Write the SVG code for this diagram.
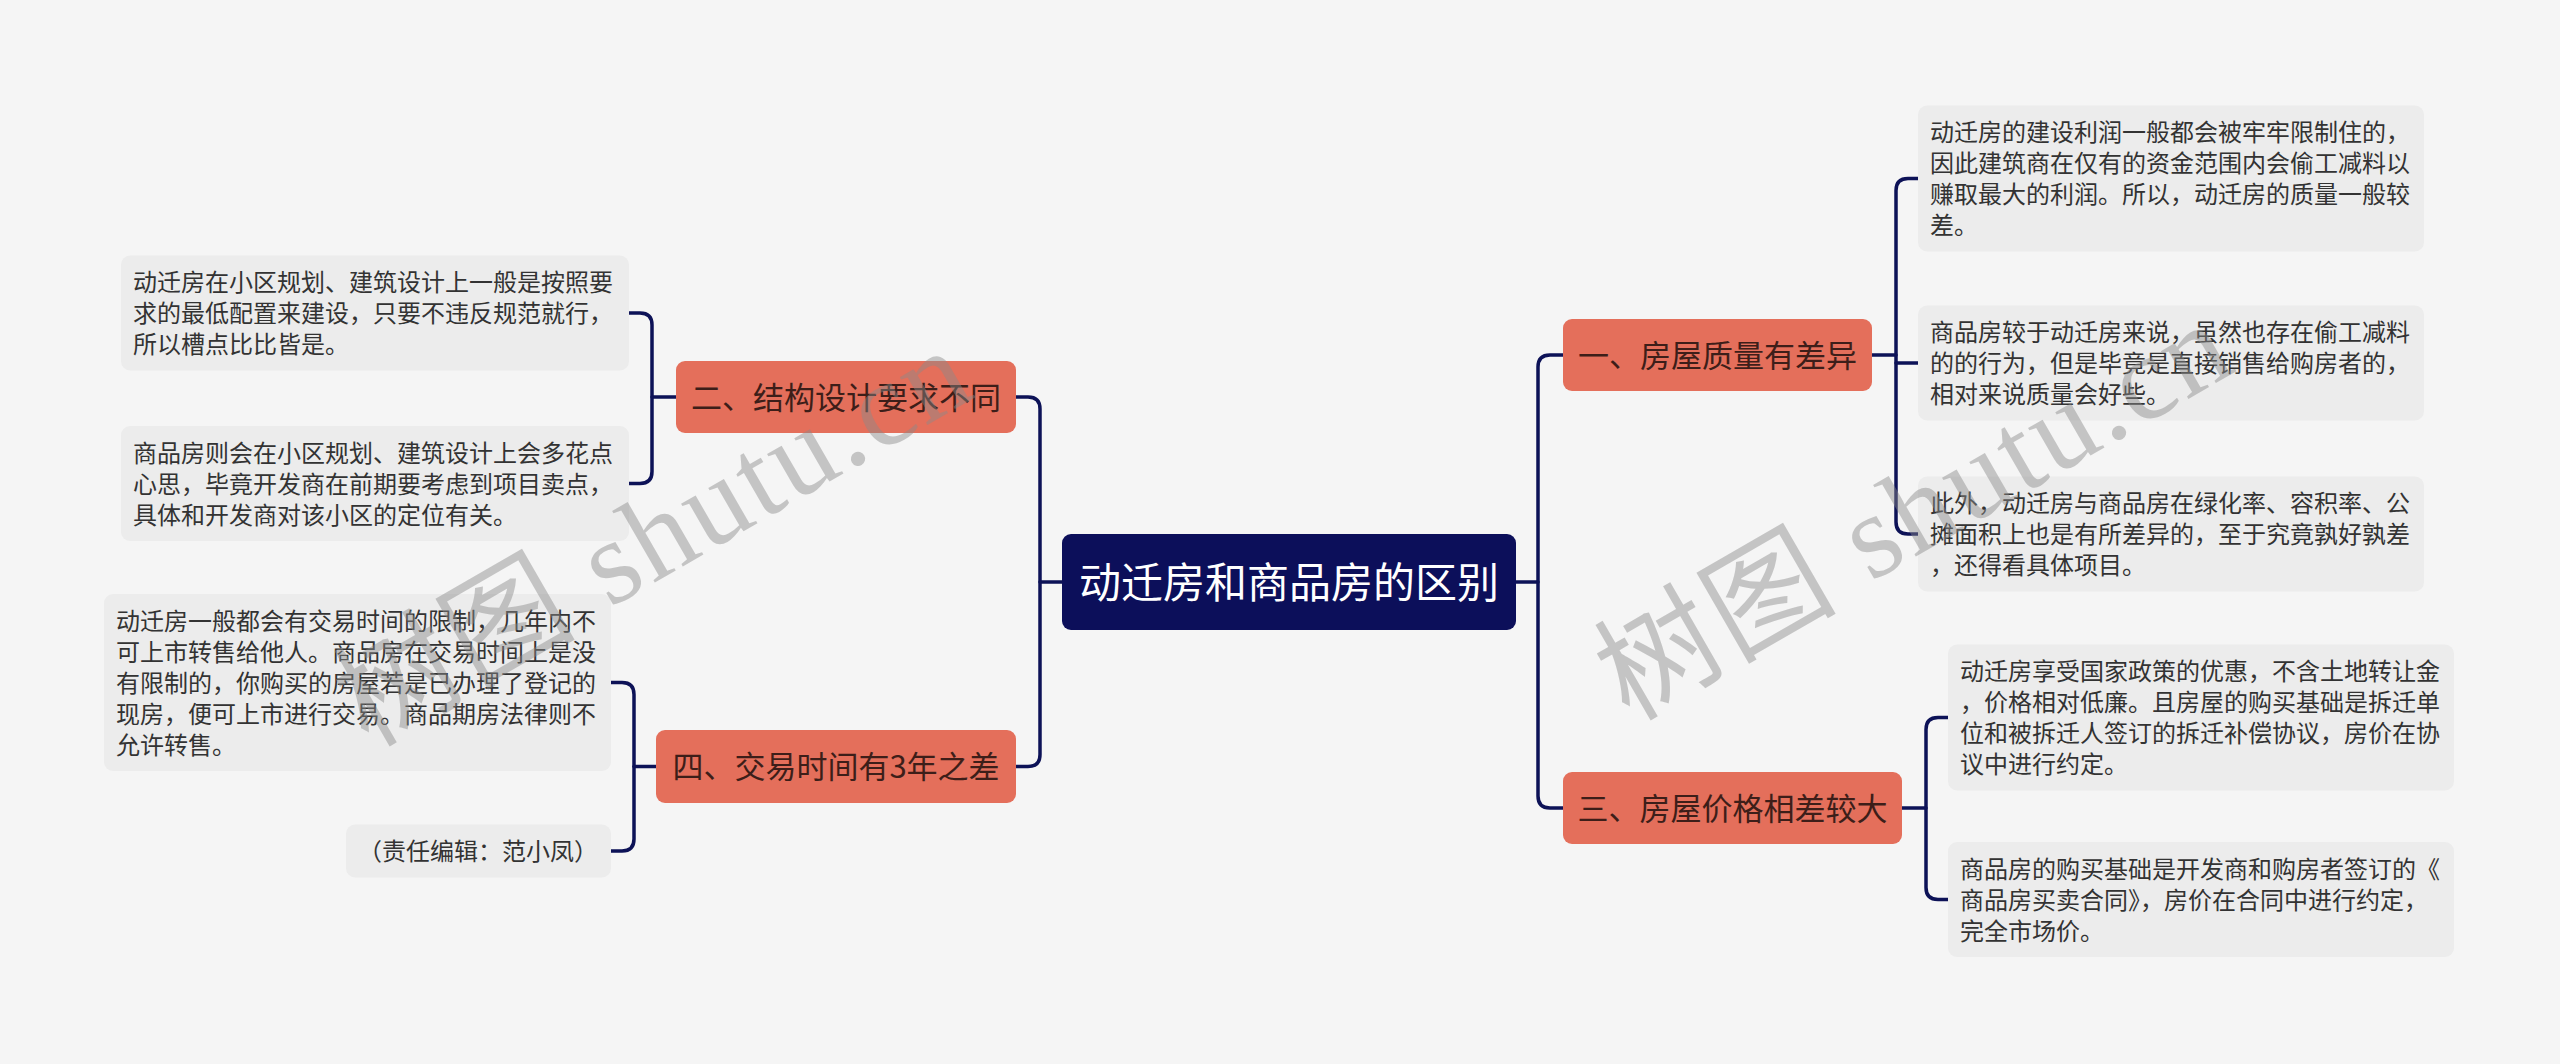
<svg xmlns="http://www.w3.org/2000/svg" width="2560" height="1064" viewBox="0 0 2560 1064">
<style>
.bg{fill:#f5f5f5}
.conn{fill:none;stroke:#0d1257;stroke-width:3.5;stroke-linecap:round}
.root{fill:#0c0f5a}
.rootText{font-family:"Noto Sans CJK SC","Noto Sans",sans-serif;font-size:42px;fill:#ffffff;text-anchor:middle}
.topic{fill:#e46f5b}
.topicText{font-family:"Noto Sans CJK SC","Noto Sans",sans-serif;font-size:31px;fill:#3d1e19;text-anchor:middle}
.leaf{fill:#ececec}
.leafText{font-family:"Noto Sans CJK SC","Noto Sans",sans-serif;font-size:24px;fill:#333333}
.wm{font-family:"Liberation Serif","Noto Sans CJK SC",serif;font-size:120px;letter-spacing:3px;fill:#8a8a8a;fill-opacity:0.45}
</style>
<rect class="bg" x="0" y="0" width="2560" height="1064"/>

<g id="connectors">
  <path class="conn" d="M1040 582 H1062"/>
  <path class="conn" d="M1016 397 H1028 Q1040 397 1040 409 V754.5 Q1040 766.5 1028 766.5 H1016"/>
  <path class="conn" d="M1516 582 H1538"/>
  <path class="conn" d="M1563 355 H1550 Q1538 355 1538 367 V796 Q1538 808 1550 808 H1563"/>
  <path class="conn" d="M1872 355 H1896"/>
  <path class="conn" d="M1918 178.5 H1908 Q1896 178.5 1896 190.5 V522 Q1896 534 1908 534 H1918"/>
  <path class="conn" d="M1896 363 H1918"/>
  <path class="conn" d="M1902 808 H1926"/>
  <path class="conn" d="M1948 717.5 H1938 Q1926 717.5 1926 729.5 V887.5 Q1926 899.5 1938 899.5 H1948"/>
  <path class="conn" d="M652 397 H676"/>
  <path class="conn" d="M629 313 H640 Q652 313 652 325 V471.5 Q652 483.5 640 483.5 H629"/>
  <path class="conn" d="M634 766.5 H656"/>
  <path class="conn" d="M611 682.5 H622 Q634 682.5 634 694.5 V839 Q634 851 622 851 H611"/>
</g>

<g id="root">
  <rect class="root" x="1062" y="534" width="454" height="96" rx="9"/>
  <text class="rootText" x="1289" y="598">动迁房和商品房的区别</text>
</g>

<g id="topic1">
  <rect class="topic" x="1563" y="319" width="309" height="72" rx="9"/>
  <text class="topicText" x="1717.5" y="367">一、房屋质量有差异</text>
</g>
<g id="topic3">
  <rect class="topic" x="1563" y="772" width="339" height="72" rx="9"/>
  <text class="topicText" x="1732.5" y="820">三、房屋价格相差较大</text>
</g>
<g id="topic2">
  <rect class="topic" x="676" y="361" width="340" height="72" rx="9"/>
  <text class="topicText" x="846" y="409">二、结构设计要求不同</text>
</g>
<g id="topic4">
  <rect class="topic" x="656" y="730" width="360" height="73" rx="9"/>
  <text class="topicText" x="836" y="778">四、交易时间有3年之差</text>
</g>

<g id="leafQ1">
  <rect class="leaf" x="1918" y="105.5" width="506" height="146" rx="9"/>
  <text class="leafText">
    <tspan x="1930" y="141">动迁房的建设利润一般都会被牢牢限制住的，</tspan>
    <tspan x="1930" y="172">因此建筑商在仅有的资金范围内会偷工减料以</tspan>
    <tspan x="1930" y="203">赚取最大的利润。所以，动迁房的质量一般较</tspan>
    <tspan x="1930" y="234">差。</tspan>
  </text>
</g>
<g id="leafQ2">
  <rect class="leaf" x="1918" y="305.5" width="506" height="115" rx="9"/>
  <text class="leafText">
    <tspan x="1930" y="341">商品房较于动迁房来说，虽然也存在偷工减料</tspan>
    <tspan x="1930" y="372">的的行为，但是毕竟是直接销售给购房者的，</tspan>
    <tspan x="1930" y="403">相对来说质量会好些。</tspan>
  </text>
</g>
<g id="leafQ3">
  <rect class="leaf" x="1918" y="476.5" width="506" height="115" rx="9"/>
  <text class="leafText">
    <tspan x="1930" y="512">此外，动迁房与商品房在绿化率、容积率、公</tspan>
    <tspan x="1930" y="543">摊面积上也是有所差异的，至于究竟孰好孰差</tspan>
    <tspan x="1930" y="574">，还得看具体项目。</tspan>
  </text>
</g>
<g id="leafP1">
  <rect class="leaf" x="1948" y="644.5" width="506" height="146" rx="9"/>
  <text class="leafText">
    <tspan x="1960" y="680">动迁房享受国家政策的优惠，不含土地转让金</tspan>
    <tspan x="1960" y="711">，价格相对低廉。且房屋的购买基础是拆迁单</tspan>
    <tspan x="1960" y="742">位和被拆迁人签订的拆迁补偿协议，房价在协</tspan>
    <tspan x="1960" y="773">议中进行约定。</tspan>
  </text>
</g>
<g id="leafP2">
  <rect class="leaf" x="1948" y="842" width="506" height="115" rx="9"/>
  <text class="leafText">
    <tspan x="1960" y="877.5">商品房的购买基础是开发商和购房者签订的《</tspan>
    <tspan x="1960" y="908.5">商品房买卖合同》，房价在合同中进行约定，</tspan>
    <tspan x="1960" y="939.5">完全市场价。</tspan>
  </text>
</g>
<g id="leafS1">
  <rect class="leaf" x="121" y="255.5" width="508" height="115" rx="9"/>
  <text class="leafText">
    <tspan x="133" y="291">动迁房在小区规划、建筑设计上一般是按照要</tspan>
    <tspan x="133" y="322">求的最低配置来建设，只要不违反规范就行，</tspan>
    <tspan x="133" y="353">所以槽点比比皆是。</tspan>
  </text>
</g>
<g id="leafS2">
  <rect class="leaf" x="121" y="426" width="508" height="115" rx="9"/>
  <text class="leafText">
    <tspan x="133" y="461.5">商品房则会在小区规划、建筑设计上会多花点</tspan>
    <tspan x="133" y="492.5">心思，毕竟开发商在前期要考虑到项目卖点，</tspan>
    <tspan x="133" y="523.5">具体和开发商对该小区的定位有关。</tspan>
  </text>
</g>
<g id="leafT1">
  <rect class="leaf" x="104" y="594" width="507" height="177" rx="9"/>
  <text class="leafText">
    <tspan x="116" y="629.5">动迁房一般都会有交易时间的限制，几年内不</tspan>
    <tspan x="116" y="660.5">可上市转售给他人。商品房在交易时间上是没</tspan>
    <tspan x="116" y="691.5">有限制的，你购买的房屋若是已办理了登记的</tspan>
    <tspan x="116" y="722.5">现房，便可上市进行交易。商品期房法律则不</tspan>
    <tspan x="116" y="753.5">允许转售。</tspan>
  </text>
</g>
<g id="leafT2">
  <rect class="leaf" x="346" y="824.5" width="265" height="53" rx="9"/>
  <text class="leafText" x="358" y="860">（责任编辑：范小凤）</text>
</g>

<g id="watermarks">
  <text class="wm" transform="translate(368 748) rotate(-30)">树图 shutu.cn</text>
  <text class="wm" transform="translate(1629 722) rotate(-30)">树图 shutu.cn</text>
</g>
</svg>
